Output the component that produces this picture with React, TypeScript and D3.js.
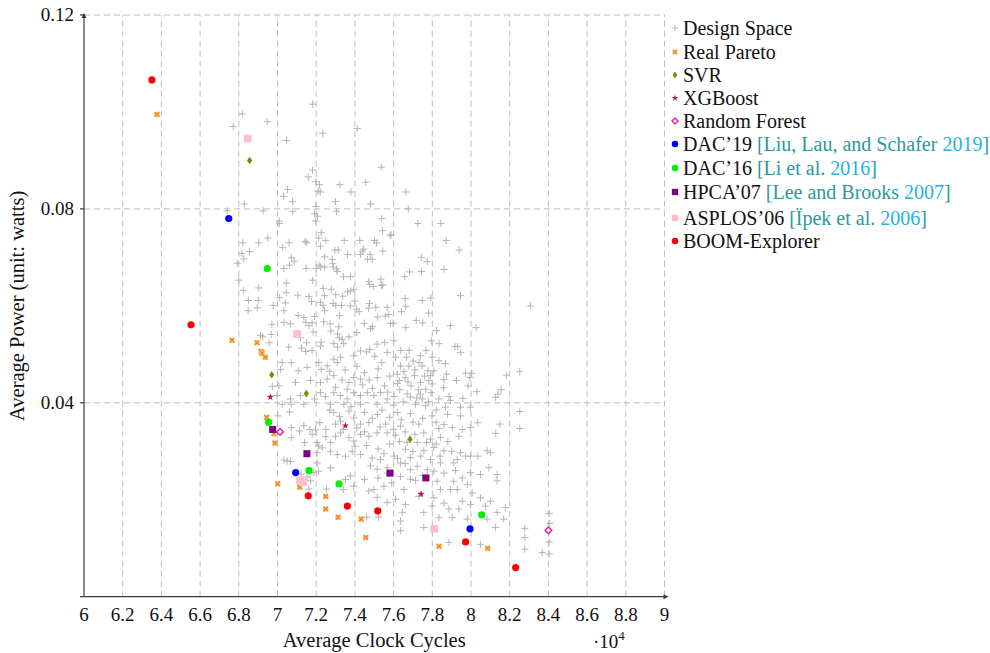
import React from "react";
import * as d3 from "d3";

// x values are in units of 10^4 clock cycles, y in watts
const xTicks = [6, 6.2, 6.4, 6.6, 6.8, 7, 7.2, 7.4, 7.6, 7.8, 8, 8.2, 8.4, 8.6, 8.8, 9];
const yTicks = [0, 0.04, 0.08, 0.12];
const yTickLabels = ["", "0.04", "0.08", "0.12"];

const designSpace: [number, number][] = [
  [7.182, 0.1016], [6.818, 0.0996], [6.947, 0.098], [6.771, 0.097], [7.412, 0.0966], [7.234, 0.0956],
  [7.047, 0.0941], [7.536, 0.0886], [7.181, 0.088], [7.159, 0.0866], [7.198, 0.0856], [7.217, 0.085],
  [7.322, 0.085], [7.456, 0.0855], [7.052, 0.084], [7.221, 0.0835], [7.379, 0.0835], [7.031, 0.0826],
  [7.078, 0.0815], [7.3, 0.0815], [7.481, 0.081], [6.829, 0.081], [7.198, 0.0805], [6.74, 0.0796],
  [6.926, 0.0796], [7.079, 0.0795], [7.305, 0.0795], [7.207, 0.0785], [7.009, 0.0775], [7.009, 0.077],
  [7.198, 0.0775], [7.539, 0.078], [7.543, 0.0755], [7.226, 0.0751], [7.581, 0.0746], [6.95, 0.074],
  [7.213, 0.074], [7.25, 0.0735], [7.345, 0.0735], [7.425, 0.0735], [7.501, 0.0735], [7.512, 0.073],
  [6.821, 0.073], [6.903, 0.073], [7.06, 0.073], [7.151, 0.073], [7.027, 0.072], [7.296, 0.0715],
  [7.314, 0.0715], [7.439, 0.0713], [7.544, 0.0713], [7.663, 0.0835], [7.676, 0.08], [7.725, 0.077],
  [7.844, 0.077], [7.587, 0.0746], [7.872, 0.0735], [7.939, 0.0715], [8.307, 0.06], [7.946, 0.0621],
  [7.86, 0.0675], [7.743, 0.07], [7.774, 0.0691], [7.744, 0.0671], [7.658, 0.066], [7.682, 0.067],
  [7.66, 0.0615], [7.663, 0.0599], [7.641, 0.0588], [7.748, 0.0611], [7.792, 0.0616], [7.78, 0.0585],
  [7.717, 0.057], [7.751, 0.0565], [7.894, 0.0559], [8.027, 0.0555], [7.663, 0.0555], [7.575, 0.0582],
  [7.584, 0.0564], [7.598, 0.0564], [7.518, 0.0577], [7.508, 0.0597], [7.475, 0.0605], [7.477, 0.0644],
  [7.495, 0.064], [7.537, 0.0642], [7.534, 0.0655], [7.472, 0.065], [7.422, 0.0588], [7.408, 0.0593],
  [7.4, 0.061], [7.394, 0.0634], [7.377, 0.0631], [7.337, 0.062], [7.278, 0.0634], [7.243, 0.0621],
  [7.236, 0.0636], [7.288, 0.0605], [7.301, 0.0601], [7.331, 0.0601], [7.32, 0.058], [7.236, 0.0601],
  [7.243, 0.059], [7.272, 0.0563], [7.317, 0.0557], [7.481, 0.0553], [7.341, 0.066], [7.377, 0.066],
  [7.288, 0.068], [7.305, 0.0676], [7.244, 0.068], [7.286, 0.0687], [7.244, 0.0701], [7.283, 0.0696],
  [7.362, 0.0706], [7.465, 0.0696], [7.489, 0.0696], [7.479, 0.0706], [7.222, 0.068], [6.816, 0.0708],
  [6.855, 0.0712], [6.792, 0.0688], [6.8, 0.0653], [6.823, 0.0632], [6.85, 0.0611], [6.9, 0.0611],
  [6.895, 0.0596], [6.848, 0.059], [6.978, 0.0601], [7.009, 0.0617], [7.045, 0.0647], [7.045, 0.0627],
  [7.072, 0.0699], [7.086, 0.0692], [7.033, 0.0677], [7.148, 0.0677], [7.2, 0.0677], [7.182, 0.0653],
  [7.222, 0.0723], [7.143, 0.0733], [7.191, 0.079], [7.21, 0.0837], [7.041, 0.0606], [7.033, 0.059],
  [7.107, 0.058], [7.136, 0.0576], [7.191, 0.0578], [7.179, 0.0565], [7.239, 0.0567], [6.971, 0.0562],
  [7.067, 0.0563], [6.826, 0.0697], [7.062, 0.0684], [7.215, 0.0684], [7.429, 0.0706], [7.446, 0.0717],
  [7.309, 0.0671], [7.544, 0.0643], [6.903, 0.0637], [7.301, 0.0623], [7.362, 0.0629], [7.105, 0.0622],
  [7.162, 0.0619], [7.176, 0.0609], [7.222, 0.0607], [7.377, 0.06], [7.471, 0.0595], [7.567, 0.0597],
  [7.033, 0.0566], [7.146, 0.0566], [7.162, 0.0559], [7.184, 0.0546], [7.276, 0.0548], [7.31, 0.0542],
  [7.319, 0.0534], [7.334, 0.0531], [7.369, 0.0536], [7.41, 0.0545], [7.448, 0.0564], [7.491, 0.0557],
  [7.557, 0.0579], [6.912, 0.0539], [6.924, 0.0536], [6.967, 0.0541], [7.119, 0.0534], [7.15, 0.0524],
  [7.226, 0.0525], [7.222, 0.0517], [7.124, 0.0513], [7.146, 0.0506], [7.179, 0.0508], [7.058, 0.0515],
  [6.957, 0.0524], [7.291, 0.0522], [7.31, 0.0515], [7.342, 0.0522], [7.429, 0.0507], [7.46, 0.0505],
  [7.477, 0.051], [7.503, 0.0496], [7.515, 0.0521], [7.554, 0.0524], [7.567, 0.0504], [7.539, 0.0483],
  [7.394, 0.0497], [7.326, 0.0494], [7.291, 0.049], [7.309, 0.0483], [7.257, 0.0476], [7.226, 0.0469],
  [7.213, 0.0483], [7.153, 0.0473], [7.107, 0.0466], [7.071, 0.0483], [7.024, 0.0483], [7.016, 0.0469],
  [7.093, 0.0442], [7.171, 0.0446], [7.222, 0.0442], [7.257, 0.0449], [7.291, 0.0456], [7.334, 0.0447],
  [7.369, 0.0442], [7.394, 0.0452], [7.429, 0.0449], [7.474, 0.0447], [7.516, 0.0452], [7.553, 0.0435],
  [7.532, 0.0421], [7.498, 0.0415], [7.464, 0.0421], [7.429, 0.0415], [7.394, 0.0421], [7.36, 0.0408],
  [7.326, 0.0415], [7.291, 0.0421], [7.248, 0.0413], [7.222, 0.0421], [7.191, 0.0408], [7.119, 0.0415],
  [7.067, 0.0408], [6.998, 0.0415], [7.007, 0.0435], [7.024, 0.0397], [7.071, 0.0397], [7.136, 0.0397],
  [7.274, 0.0397], [7.343, 0.0397], [7.429, 0.0397], [7.515, 0.0397], [7.567, 0.0408], [6.973, 0.0434],
  [7.822, 0.0549], [7.601, 0.0528], [7.795, 0.0528], [7.835, 0.0522], [7.917, 0.0516], [7.931, 0.0516],
  [7.947, 0.0504], [7.637, 0.0508], [7.68, 0.0508], [7.768, 0.0508], [7.61, 0.0494], [7.667, 0.0494],
  [7.739, 0.0497], [7.799, 0.0494], [7.834, 0.0487], [7.701, 0.0486], [7.732, 0.0483], [7.868, 0.0481],
  [7.636, 0.0476], [7.679, 0.0476], [7.748, 0.0476], [7.777, 0.0466], [7.808, 0.0466], [7.653, 0.0465],
  [7.619, 0.0459], [7.708, 0.0456], [7.791, 0.0456], [7.873, 0.0459], [7.972, 0.0461], [8.004, 0.0461],
  [7.994, 0.0452], [8.183, 0.0457], [8.252, 0.0464], [7.86, 0.0448], [7.925, 0.0446], [7.629, 0.0446],
  [7.674, 0.0443], [7.739, 0.0442], [7.782, 0.0446], [7.799, 0.0439], [7.69, 0.0435], [7.728, 0.0427],
  [7.766, 0.0428], [7.632, 0.0427], [7.858, 0.0431], [7.985, 0.0435], [8.03, 0.0423], [8.156, 0.0427],
  [8.139, 0.0418], [8.127, 0.0411], [7.67, 0.0418], [7.739, 0.0418], [7.794, 0.0421], [7.602, 0.0413],
  [7.687, 0.0412], [7.748, 0.0408], [7.834, 0.0408], [7.886, 0.0413], [7.958, 0.0409], [7.894, 0.0405],
  [7.713, 0.0397], [7.765, 0.0394], [7.946, 0.0391], [7.997, 0.0391], [7.868, 0.0391], [7.619, 0.038],
  [7.687, 0.0378], [7.799, 0.0373], [7.879, 0.0376], [7.946, 0.0373], [8.035, 0.0359], [8.149, 0.0356],
  [8.252, 0.0382], [8.252, 0.0347], [8.128, 0.0337], [7.636, 0.0352], [7.73, 0.0356], [7.834, 0.0347],
  [7.903, 0.0349], [7.955, 0.0345], [7.997, 0.0349], [7.756, 0.0338], [7.791, 0.0325], [7.842, 0.0328],
  [7.937, 0.0331], [7.61, 0.0333], [7.67, 0.0318], [7.722, 0.0318], [7.661, 0.0304], [7.756, 0.0301],
  [7.808, 0.0308], [7.86, 0.0301], [7.946, 0.0297], [7.997, 0.029], [8.035, 0.029], [8.083, 0.0301],
  [8.101, 0.0297], [7.972, 0.029], [7.602, 0.029], [7.687, 0.0287], [7.791, 0.0283], [7.842, 0.0276],
  [7.911, 0.0276], [7.929, 0.0283], [7.636, 0.0276], [7.722, 0.0269], [7.774, 0.0262], [7.808, 0.0259],
  [7.687, 0.0262], [8.092, 0.0266], [7.997, 0.0256], [8.049, 0.0252], [8.135, 0.0252], [8.135, 0.0239],
  [7.636, 0.0248], [7.687, 0.0242], [7.713, 0.024], [7.825, 0.0238], [7.911, 0.0238], [7.955, 0.0245],
  [7.981, 0.0231], [7.894, 0.0221], [7.842, 0.0221], [7.929, 0.0221], [8.006, 0.0214], [8.049, 0.0204],
  [8.101, 0.0197], [7.653, 0.0221], [7.61, 0.0201], [7.661, 0.019], [7.73, 0.0207], [7.808, 0.0204],
  [7.86, 0.0193], [7.955, 0.0197], [7.997, 0.019], [8.075, 0.0187], [8.178, 0.0184], [8.135, 0.0174],
  [7.937, 0.0181], [7.886, 0.0181], [7.799, 0.0187], [7.756, 0.0174], [7.645, 0.0174], [7.834, 0.0163],
  [7.903, 0.0163], [7.981, 0.016], [8.083, 0.016], [8.169, 0.016], [7.636, 0.0156], [7.756, 0.0143],
  [7.636, 0.0136], [8.127, 0.0143], [8.278, 0.0141], [8.278, 0.0122], [8.278, 0.0098], [8.404, 0.0172],
  [8.404, 0.0113], [8.368, 0.0091], [8.404, 0.0088], [7.886, 0.0112], [8.049, 0.0108], [8.407, 0.0151],
  [7.002, 0.0373], [7.062, 0.0381], [7.219, 0.0359], [7.3, 0.0356], [7.326, 0.0362], [7.291, 0.038],
  [7.369, 0.0383], [7.394, 0.0369], [7.429, 0.0356], [7.472, 0.0359], [7.516, 0.0376], [7.559, 0.0356],
  [7.071, 0.0349], [7.114, 0.0342], [7.136, 0.0353], [7.167, 0.0345], [7.196, 0.0344], [7.179, 0.0335],
  [7.071, 0.0328], [7.14, 0.0318], [7.205, 0.0318], [7.213, 0.0311], [7.274, 0.0318], [7.3, 0.0331],
  [7.326, 0.0338], [7.369, 0.0328], [7.394, 0.0321], [7.429, 0.0335], [7.472, 0.0331], [7.515, 0.0338],
  [7.567, 0.0338], [7.274, 0.03], [7.309, 0.0293], [7.351, 0.029], [7.386, 0.03], [7.429, 0.0293],
  [7.489, 0.0286], [7.532, 0.0283], [7.481, 0.027], [7.515, 0.0263], [7.567, 0.0266], [7.231, 0.0307],
  [7.205, 0.0297], [7.205, 0.0276], [7.274, 0.0266], [7.033, 0.0282], [7.05, 0.028], [7.067, 0.0279],
  [7.122, 0.0253], [7.153, 0.0247], [7.188, 0.0256], [7.213, 0.0259], [7.162, 0.0222], [7.171, 0.0239],
  [7.351, 0.0242], [7.377, 0.0249], [7.394, 0.0228], [7.34, 0.0221], [7.45, 0.0242], [7.498, 0.0221],
  [7.472, 0.0218], [7.55, 0.0228], [7.567, 0.0194], [7.515, 0.0205], [7.461, 0.0164], [7.522, 0.0164],
  [7.253, 0.0222],
  // densest part of the cloud
  [7.27, 0.0465], [7.35, 0.0468], [7.41, 0.0475], [7.45, 0.0462], [7.52, 0.047], [7.58, 0.0455],
  [7.62, 0.044], [7.66, 0.0452], [7.71, 0.0468], [7.76, 0.0455], [7.3, 0.0432], [7.36, 0.0428],
  [7.44, 0.0437], [7.49, 0.043], [7.57, 0.0422], [7.6, 0.0395], [7.65, 0.0402], [7.72, 0.041],
  [7.78, 0.0402], [7.82, 0.0385], [7.27, 0.0385], [7.32, 0.0372], [7.38, 0.0392], [7.45, 0.038],
  [7.49, 0.0368], [7.54, 0.0385], [7.58, 0.037], [7.64, 0.0365], [7.7, 0.036], [7.75, 0.0368],
  [7.82, 0.036], [7.86, 0.0355], [7.25, 0.0345], [7.34, 0.0345], [7.41, 0.0348], [7.45, 0.034],
  [7.53, 0.035], [7.6, 0.0345], [7.66, 0.034], [7.71, 0.0335], [7.77, 0.0318], [7.82, 0.0315],
  [7.88, 0.032], [7.25, 0.033], [7.4, 0.031], [7.46, 0.0312], [7.52, 0.0305], [7.58, 0.0315],
  [7.63, 0.032], [7.7, 0.03], [7.74, 0.029], [7.84, 0.029], [7.9, 0.03], [7.55, 0.0295],
  [7.62, 0.0285], [7.66, 0.0275], [7.57, 0.0255], [7.52, 0.0245], [7.59, 0.0235], [7.75, 0.025],
  [7.86, 0.0255], [7.92, 0.026],
];

const realPareto: [number, number][] = [
  [6.377, 0.0995], [6.765, 0.0529], [6.894, 0.0524], [6.915, 0.0506], [6.92, 0.0502], [6.937, 0.0494],
  [6.944, 0.037], [6.982, 0.0336], [6.987, 0.0317], [7.001, 0.0233], [7.115, 0.0226], [7.249, 0.0207],
  [7.249, 0.0181], [7.313, 0.0164], [7.432, 0.016], [7.456, 0.0122], [7.835, 0.0104], [8.086, 0.01],
];
const svr: [number, number][] = [[6.856, 0.09], [6.97, 0.0458], [7.149, 0.0419], [7.685, 0.0325]];
const xgboost: [number, number][] = [[6.963, 0.0412], [7.351, 0.0353], [7.742, 0.0212]];
const randomForest: [number, number][] = [[7.013, 0.034], [8.4, 0.0137]];
const dac19: [number, number][] = [[6.748, 0.078], [7.094, 0.0256], [7.995, 0.014]];
const dac16: [number, number][] = [[6.947, 0.0677], [6.954, 0.036], [7.163, 0.026], [7.318, 0.0233], [8.055, 0.0169]];
const hpca07: [number, number][] = [[6.975, 0.0345], [7.152, 0.0295], [7.581, 0.0255], [7.767, 0.0245]];
const asplos06: [number, number][] = [[6.846, 0.0945], [7.101, 0.0542], [7.116, 0.024], [7.133, 0.0236], [7.81, 0.014]];
const boomExplorer: [number, number][] = [
  [6.351, 0.1066], [6.553, 0.0561], [7.159, 0.0208], [7.361, 0.0187], [7.518, 0.0177], [7.972, 0.0113], [8.231, 0.006],
];

const legendNames = [
  "Design Space", "Real Pareto", "SVR", "XGBoost", "Random Forest",
  "DAC’19", "DAC’16", "HPCA’07", "ASPLOS’06", "BOOM-Explorer",
];
// citation: [authors, year]
const legendCites: ([string, string] | null)[] = [
  null, null, null, null, null,
  ["Liu, Lau, and Schafer ", "2019"], ["Li et al. ", "2016"], ["Lee and Brooks ", "2007"], ["Ïpek et al. ", "2006"], null,
];

const FONT = "'Liberation Serif', 'Times New Roman', serif";
const TEAL = "#2a9a9a";
const CYAN = "#1fb0e8";

type Kind = "plus" | "cross" | "diamond" | "star" | "openDiamond" | "circle" | "square";

const Marker = ({ kind, x, y, color, s = 1 }: { kind: Kind; x: number; y: number; color: string; s?: number }) => {
  if (kind === "plus") {
    const h = 3.6 * s;
    return <path d={`M${x - h},${y}H${x + h}M${x},${y - h}V${y + h}`} stroke={color} strokeWidth={1} />;
  }
  if (kind === "cross") {
    const h = 2.3 * s;
    return (
      <g>
        <rect x={x - 2.6 * s} y={y - 2.6 * s} width={5.2 * s} height={5.2 * s} fill="#fcc58c" />
        <path d={`M${x - h},${y - h}L${x + h},${y + h}M${x + h},${y - h}L${x - h},${y + h}`} stroke="#f08a1c" strokeWidth={1.4} />
      </g>
    );
  }
  if (kind === "diamond") {
    return <path d={`M${x},${y - 3.8 * s}L${x + 2.6 * s},${y}L${x},${y + 3.8 * s}L${x - 2.6 * s},${y}Z`} fill={color} />;
  }
  if (kind === "openDiamond") {
    return <path d={`M${x},${y - 3.3 * s}L${x + 3.3 * s},${y}L${x},${y + 3.3 * s}L${x - 3.3 * s},${y}Z`} fill="#fff" stroke={color} strokeWidth={1.5} />;
  }
  if (kind === "star") {
    const p = d3.symbol(d3.symbolStar, 16 * s * s)() as string;
    return <path d={p} transform={`translate(${x},${y})`} fill={color} />;
  }
  if (kind === "circle") {
    return <circle cx={x} cy={y} r={3.6 * s} fill={color} />;
  }
  return <rect x={x - 3.5 * s} y={y - 3.5 * s} width={7 * s} height={7 * s} fill={color} />;
};

const series: { data: [number, number][]; kind: Kind; color: string; s?: number }[] = [
  { data: designSpace, kind: "plus", color: "#b4b4b4" },
  { data: realPareto, kind: "cross", color: "#f08a1c" },
  { data: svr, kind: "diamond", color: "#8a8400" },
  { data: xgboost, kind: "star", color: "#c0104a" },
  { data: randomForest, kind: "openDiamond", color: "#ee22aa" },
  { data: dac19, kind: "circle", color: "#0000ff" },
  { data: dac16, kind: "circle", color: "#00ee00" },
  { data: hpca07, kind: "square", color: "#800080" },
  { data: asplos06, kind: "square", color: "#ffbfc8", s: 1.1 },
  { data: boomExplorer, kind: "circle", color: "#ff0000" },
];
const legendY = [28, 52, 75, 98, 121, 144, 168, 192, 218, 241];

const App = () => {
  const W = 990;
  const H = 653;
  const x = d3.scaleLinear().domain([6, 9]).range([84, 664.5]);
  const y = d3.scaleLinear().domain([0, 0.12]).range([596.7, 15]);
  const [x0, x1] = x.range();
  const [y0, y1] = y.range();
  const axisColor = "#3a3a3a";

  return (
    <div>
      <style>{`body{margin:0}`}</style>
      <svg width={W} height={H} style={{ display: "block", background: "#fff" }} fontFamily={FONT}>
        {/* grid */}
        <g stroke="#bdbdbd" strokeWidth={1} strokeDasharray="6,4">
          {xTicks.slice(1).map((t) => (
            <line key={"gx" + t} x1={x(t)} x2={x(t)} y1={y0} y2={y1} />
          ))}
          {yTicks.slice(1).map((t) => (
            <line key={"gy" + t} x1={x0} x2={x1} y1={y(t)} y2={y(t)} />
          ))}
        </g>

        {/* series */}
        {series.map((sr, i) => (
          <g key={"s" + i}>
            {sr.data.map((d, j) => (
              <Marker key={j} kind={sr.kind} x={x(d[0])} y={y(d[1])} color={sr.color} s={sr.s} />
            ))}
          </g>
        ))}

        {/* axes */}
        <g stroke={axisColor} strokeWidth={1.2} fill="none">
          <line x1={x0} x2={x0} y1={y0} y2={y1 - 1} />
          <line x1={x0} x2={x1 + 2} y1={y0} y2={y0} />
          {yTicks.map((t) => (
            <line key={"ty" + t} x1={x0 - 4} x2={x0} y1={y(t)} y2={y(t)} />
          ))}
        </g>
        <path d={`M${x0 - 2.5},${y1 + 3}L${x0},${y1 - 2}L${x0 + 2.5},${y1 + 3}Z`} fill={axisColor} />
        <path d={`M${x1 - 1},${y0 - 2.5}L${x1 + 4},${y0}L${x1 - 1},${y0 + 2.5}Z`} fill={axisColor} />

        {/* tick labels */}
        <g fontSize={19} fill="#111">
          {xTicks.map((t) => (
            <text key={"lx" + t} x={x(t)} y={621} textAnchor="middle">
              {d3.format("~g")(t)}
            </text>
          ))}
          {yTicks.map((t, i) => (
            <text key={"ly" + t} x={74} y={y(t) + 6} textAnchor="end">
              {yTickLabels[i]}
            </text>
          ))}
        </g>
        <text x={(x0 + x1) / 2} y={647} textAnchor="middle" fontSize={20.5} fill="#111">
          Average Clock Cycles
        </text>
        <text x={593} y={648} fontSize={19} fill="#111">
          ·10<tspan fontSize={13} dy={-8}>4</tspan>
        </text>
        <text
          transform={`translate(24,${(y0 + y1) / 2}) rotate(-90)`}
          textAnchor="middle"
          fontSize={20.5}
          fill="#111"
        >
          Average Power (unit: watts)
        </text>

        {/* legend */}
        <g fontSize={20} fill="#111">
          {legendNames.map((name, i) => {
            const sr = series[i];
            const cite = legendCites[i];
            return (
              <g key={"lg" + i}>
                <Marker kind={sr.kind} x={675} y={legendY[i]} color={sr.color} s={0.9} />
                <text x={683} y={legendY[i] + 6.5}>
                  {name}
                  {cite && (
                    <>
                      <tspan fill={TEAL}>{" [" + cite[0]}</tspan>
                      <tspan fill={CYAN}>{cite[1]}</tspan>
                      <tspan fill={TEAL}>]</tspan>
                    </>
                  )}
                </text>
              </g>
            );
          })}
        </g>
      </svg>
    </div>
  );
};

export default App;
